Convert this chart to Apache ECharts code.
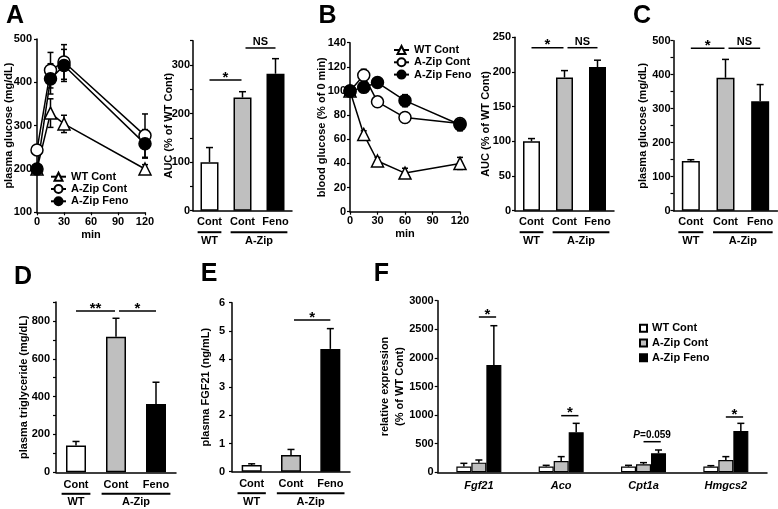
<!DOCTYPE html>
<html><head><meta charset="utf-8">
<script src="https://cdn.jsdelivr.net/npm/echarts@6/dist/echarts.min.js"></script>
<style>html,body{margin:0;padding:0;background:#fff}#c{width:778px;height:509px}</style>
</head><body><div id="c"></div>
<script>
// ---------------- data ----------------
const groupNames = ['WT Cont', 'A-Zip Cont', 'A-Zip Feno'];
const groupLabels = ['WT', 'A-Zip'];
const ogttTimes = [0, 15, 30, 120];
const ogttWT = [200, 329, 304, 200];
const ogttWTErr = [5, 33, 20, 10];
const ogttCont = [244, 428, 447, 277];
const ogttContErr = [5, 41, 40, 50];
const ogttFeno = [200, 408, 439, 258];
const ogttFenoErr = [5, 35, 37, 33];
const ogttAuc = [100, 233, 282];
const ogttAucErr = [30, 12, 31];
const ittTimes = [0, 15, 30, 60, 120];
const ittWT = [100, 64, 42, 32, 40];
const ittWTErr = [0, 3, 3, 4, 5];
const ittCont = [100, 113, 91, 78, 73];
const ittContErr = [0, 5, 3, 4, 4];
const ittFeno = [100, 103, 107, 92, 72];
const ittFenoErr = [0, 3, 3, 5, 5];
const ittAuc = [100, 192, 207];
const ittAucErr = [4, 10, 10];
const fastGlucose = [146, 391, 322];
const fastGlucoseErr = [4, 54, 49];
const triglyceride = [142, 717, 361];
const triglycerideErr = [21, 97, 115];
const fgf21Plasma = [0.24, 0.59, 4.36];
const fgf21PlasmaErr = [0.04, 0.2, 0.72];
const genes = ['Fgf21', 'Aco', 'Cpt1a', 'Hmgcs2'];
const exprWT = [100, 100, 100, 100];
const exprWTErr = [57, 22, 22, 16];
const exprCont = [169, 198, 140, 215];
const exprContErr = [46, 76, 29, 59];
const exprFeno = [1876, 699, 332, 722];
const exprFenoErr = [687, 157, 58, 134];
// significance annotations: [grid, fromCat, toCat, yValue, text]
const sigBars = [
  [1, 0, 1, 269, '*'], [1, 1, 2, 335, 'NS'],
  [3, 0, 1, 235, '*'], [3, 1, 2, 235, 'NS'],
  [4, 0, 1, 478, '*'], [4, 1, 2, 478, 'NS'],
  [5, 0, 1, 853, '**'], [5, 1, 2, 853, '*'],
  [6, 1, 2, 5.39, '*']
];
// gene significance: [geneIndex, yValue, text]
const sigGenes = [[0, 2715, '*'], [1, 990, '*'], [2, 535, 'P=0.059'], [3, 967, '*']];

// ---------------- style ----------------
const FONT = "'Liberation Sans', Arial, Helvetica, sans-serif";
const FILLS = ['#ffffff', '#bfbfbf', '#000000'];
const txt = (size, extra) => Object.assign({color: '#000', fontWeight: 'bold', fontSize: size, fontFamily: FONT}, extra || {});

const grids = [
  {left: 37, top: 39, width: 108, height: 173.3},
  {left: 193, top: 40.7, width: 99, height: 170},
  {left: 350, top: 42.7, width: 110, height: 169},
  {left: 515, top: 37.3, width: 99, height: 173.4},
  {left: 673.5, top: 40.7, width: 104, height: 170},
  {left: 56, top: 302, width: 120, height: 170.3},
  {left: 232, top: 302.7, width: 118, height: 169},
  {left: 437.7, top: 300.7, width: 329.3, height: 171.6}
].map(g => Object.assign({outerBoundsMode: 'none', containLabel: false}, g));

function baseAxis(gi, extra) {
  return Object.assign({
    gridIndex: gi,
    axisLine: {show: true, onZero: false, lineStyle: {color: '#000', width: 1.5}},
    axisTick: {show: true, length: 3, lineStyle: {color: '#000', width: 1.2}},
    axisLabel: txt(11, {margin: 4}),
    splitLine: {show: false},
    nameLocation: 'middle',
    nameMoveOverlap: false,
    nameTextStyle: txt(11)
  }, extra);
}
function valY(gi, min, max, interval, name, gap, margin, every) {
  return baseAxis(gi, {
    type: 'value', min, max, interval, name, nameGap: gap,
    axisLabel: txt(11, {margin, formatter: v => (every && v % every !== 0) ? '' : String(v)})
  });
}
function catX(gi, cats, margin) {
  return baseAxis(gi, {
    type: 'category', data: cats,
    axisTick: {show: false},
    axisLabel: txt(11, {margin, interval: 0, formatter: v => v.split(' ')[1]})
  });
}

const xAxis = [
  baseAxis(0, {type: 'value', min: 0, max: 120, interval: 30, name: 'min', nameGap: 17}),
  catX(1, groupNames, 6),
  baseAxis(2, {type: 'value', min: 0, max: 120, interval: 30, name: 'min', nameGap: 17}),
  catX(3, groupNames, 6),
  catX(4, groupNames, 6),
  catX(5, groupNames, 7),
  catX(6, groupNames, 7),
  baseAxis(7, {type: 'category', data: genes, axisTick: {show: false},
    axisLabel: txt(11, {margin: 8, fontStyle: 'italic', interval: 0})})
];
const yAxis = [
  valY(0, 100, 500, 100, 'plasma glucose (mg/dL)', 23, 5),
  valY(1, 0, 350, 50, 'AUC (% of WT Cont)', 18.5, 3, 100),
  valY(2, 0, 140, 20, 'blood glucose (% of 0 min)', 22.5, 4),
  valY(3, 0, 250, 50, 'AUC (% of WT Cont)', 24, 4),
  valY(4, 0, 500, 50, 'plasma glucose (mg/dL)', 24.7, 3, 100),
  valY(5, 0, 900, 100, 'plasma triglyceride (mg/dL)', 26.7, 6, 200),
  valY(6, 0, 6, 1, 'plasma FGF21 (ng/mL)', 21, 7),
  valY(7, 0, 3000, 500, 'relative expression\n(% of WT Cont)', 30, 4)
];
yAxis[7].nameTextStyle = txt(11, {lineHeight: 15});

function lineSeries(name, gi, times, vals, symbol, fill) {
  return {
    type: 'line', name, xAxisIndex: gi, yAxisIndex: gi,
    data: times.map((t, i) => [t, vals[i]]),
    symbol, symbolSize: 12, showSymbol: true,
    lineStyle: {color: '#000', width: 1.5},
    itemStyle: {color: fill, borderColor: '#000', borderWidth: 1.5, opacity: 1},
    z: 5, emphasis: {disabled: true}, silent: true
  };
}
function errLine(gi, times, vals, errs) {
  return {
    type: 'custom', xAxisIndex: gi, yAxisIndex: gi, z: 1, silent: true,
    data: times.map((t, i) => [t, vals[i], errs[i]]),
    renderItem(params, api) {
      const x = api.value(0), y = api.value(1), e = api.value(2);
      const a = api.coord([x, y + e]), b = api.coord([x, y - e]);
      const hw = 3, st = {stroke: '#000', lineWidth: 1.5};
      return {type: 'group', children: [
        {type: 'line', shape: {x1: a[0], y1: a[1], x2: b[0], y2: b[1]}, style: st},
        {type: 'line', shape: {x1: a[0] - hw, y1: a[1], x2: a[0] + hw, y2: a[1]}, style: st},
        {type: 'line', shape: {x1: b[0] - hw, y1: b[1], x2: b[0] + hw, y2: b[1]}, style: st}
      ]};
    }
  };
}
function barSeries(gi, vals, width) {
  return {
    type: 'bar', xAxisIndex: gi, yAxisIndex: gi, barWidth: width, silent: true,
    data: vals.map((v, i) => ({value: v, itemStyle: {color: FILLS[i]}})),
    itemStyle: {borderColor: '#000', borderWidth: 1.5}, z: 2
  };
}
function errBar(gi, vals, errs, shift) {
  return {
    type: 'custom', xAxisIndex: gi, yAxisIndex: gi, z: 1, silent: true,
    data: vals.map((v, i) => [i, v, errs[i]]),
    renderItem(params, api) {
      const i = api.value(0), v = api.value(1), e = api.value(2);
      const p = api.coord([i, v]), t = api.coord([i, v + e]);
      const x = p[0] + (shift || 0), hw = 3.5, st = {stroke: '#000', lineWidth: 1.5};
      return {type: 'group', children: [
        {type: 'line', shape: {x1: x, y1: p[1], x2: x, y2: t[1]}, style: st},
        {type: 'line', shape: {x1: x - hw, y1: t[1], x2: x + hw, y2: t[1]}, style: st}
      ]};
    }
  };
}
const F_BW = 15;
function geneSeries(name, vals, k) {
  return {
    type: 'bar', name, xAxisIndex: 7, yAxisIndex: 7, barWidth: F_BW, barGap: '0%', silent: true,
    data: vals, itemStyle: {color: FILLS[k], borderColor: '#000', borderWidth: 1.2}, z: 2
  };
}

const series = [
  errLine(0, ogttTimes, ogttWT, ogttWTErr),
  errLine(0, ogttTimes, ogttCont, ogttContErr),
  errLine(0, ogttTimes, ogttFeno, ogttFenoErr),
  lineSeries('WT Cont', 0, ogttTimes, ogttWT, 'triangle', '#fff'),
  lineSeries('A-Zip Cont', 0, ogttTimes, ogttCont, 'circle', '#fff'),
  lineSeries('A-Zip Feno', 0, ogttTimes, ogttFeno, 'circle', '#000'),
  barSeries(1, ogttAuc, 18), errBar(1, ogttAuc, ogttAucErr),
  errLine(2, ittTimes, ittWT, ittWTErr),
  errLine(2, ittTimes, ittCont, ittContErr),
  errLine(2, ittTimes, ittFeno, ittFenoErr),
  lineSeries('WT Cont', 2, ittTimes, ittWT, 'triangle', '#fff'),
  lineSeries('A-Zip Cont', 2, ittTimes, ittCont, 'circle', '#fff'),
  lineSeries('A-Zip Feno', 2, ittTimes, ittFeno, 'circle', '#000'),
  barSeries(3, ittAuc, 17), errBar(3, ittAuc, ittAucErr),
  barSeries(4, fastGlucose, 18), errBar(4, fastGlucose, fastGlucoseErr),
  barSeries(5, triglyceride, 20), errBar(5, triglyceride, triglycerideErr),
  barSeries(6, fgf21Plasma, 20), errBar(6, fgf21Plasma, fgf21PlasmaErr),
  geneSeries('F WT Cont', exprWT, 0),
  geneSeries('F A-Zip Cont', exprCont, 1),
  geneSeries('F A-Zip Feno', exprFeno, 2),
  errBar(7, exprWT, exprWTErr, -F_BW),
  errBar(7, exprCont, exprContErr, 0),
  errBar(7, exprFeno, exprFenoErr, F_BW)
];

const lineLegend = (left, top) => ({
  orient: 'vertical', left, top, padding: 0, itemWidth: 15, itemHeight: 10, itemGap: 0.3,
  selectedMode: false, data: groupNames, textStyle: txt(11, {lineHeight: 12})
});
const legend = [
  lineLegend(50, 170.7),
  lineLegend(393, 44),
  {orient: 'vertical', left: 639, top: 322.3, padding: 0, itemWidth: 7, itemHeight: 7, itemGap: 2.7,
   icon: 'rect', selectedMode: false, data: groupNames.map(n => 'F ' + n),
   formatter: n => n.slice(2), textStyle: txt(11, {lineHeight: 12})}
];

const chart = echarts.init(document.getElementById('c'), null, {renderer: 'canvas', width: 778, height: 509});
chart.setOption({animation: false, backgroundColor: '#fff', grid: grids, xAxis, yAxis, series, legend});

// ---------------- annotations ----------------
const gfx = [];
const px = (g, x, y) => chart.convertToPixel({gridIndex: g}, [x, y]);
const letters = [['A', 15, 16], ['B', 327.5, 16], ['C', 642, 16], ['D', 23, 277.5], ['E', 209, 274], ['F', 381.5, 274]];
letters.forEach(([t, x, y]) => gfx.push({type: 'text', x, y, style: Object.assign(txt(25), {text: t, align: 'center', verticalAlign: 'middle'})}));
const LS = {stroke: '#000', lineWidth: 1.5};
sigBars.forEach(([g, a, b, v, t]) => {
  const pa = px(g, a, v), pb = px(g, b, v);
  const x1 = pa[0] + (a === 1 ? 3 : 0), x2 = pb[0] - (b === 1 ? 1 : 0), y = pa[1];
  gfx.push({type: 'line', shape: {x1, y1: y, x2, y2: y}, style: LS});
  const star = t.indexOf('*') === 0;
  gfx.push({type: 'text', x: (x1 + x2) / 2, y: star ? y - 2.5 : y - 6,
    style: Object.assign(txt(star ? 15 : 11), {text: t, align: 'center', verticalAlign: 'middle'})});
});
sigGenes.forEach(([i, v, t]) => {
  const p = px(7, i, v);
  const x1 = p[0], x2 = p[0] + F_BW * 1.15, y = p[1];
  gfx.push({type: 'line', shape: {x1, y1: y, x2, y2: y}, style: LS});
  if (t === '*') {
    gfx.push({type: 'text', x: (x1 + x2) / 2, y: y - 2.5, style: Object.assign(txt(15), {text: t, align: 'center', verticalAlign: 'middle'})});
  } else {
    gfx.push({type: 'text', x: (x1 + x2) / 2, y: y - 6.5, style: Object.assign(txt(10), {
      text: '{i|P}' + t.slice(1), align: 'center', verticalAlign: 'middle',
      rich: {i: txt(10, {fontStyle: 'italic'})}})});
  }
});
// group labels under bar panels
[1, 3, 4, 5, 6].forEach(g => {
  const c0 = px(g, 0, 0), c1 = px(g, 1, 0), c2 = px(g, 2, 0);
  const band = c1[0] - c0[0], h = band * 0.36, ay = c0[1];
  gfx.push({type: 'line', shape: {x1: c0[0] - h, y1: ay + 21.5, x2: c0[0] + h, y2: ay + 21.5}, style: {stroke: '#000', lineWidth: 2}});
  gfx.push({type: 'line', shape: {x1: c1[0] - h, y1: ay + 21.5, x2: c2[0] + h, y2: ay + 21.5}, style: {stroke: '#000', lineWidth: 2}});
  gfx.push({type: 'text', x: c0[0], y: ay + 30, style: Object.assign(txt(11), {text: groupLabels[0], align: 'center', verticalAlign: 'middle'})});
  gfx.push({type: 'text', x: (c1[0] + c2[0]) / 2, y: ay + 30, style: Object.assign(txt(11), {text: groupLabels[1], align: 'center', verticalAlign: 'middle'})});
});
chart.setOption({graphic: gfx.map(e => Object.assign({silent: true}, e))});
</script>
</body></html>
